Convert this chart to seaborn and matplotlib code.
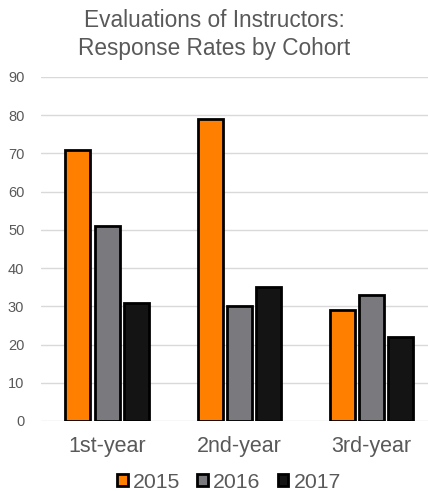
import matplotlib
matplotlib.use("Agg")
import matplotlib.pyplot as plt
import seaborn as sns
import pandas as pd

cohorts = ["1st-year", "2nd-year", "3rd-year"]
years = ["2015", "2016", "2017"]
rate_2015 = [71, 79, 29]
rate_2016 = [51, 30, 33]
rate_2017 = [31, 35, 22]
y_ticks = [0, 10, 20, 30, 40, 50, 60, 70, 80, 90]

df = pd.DataFrame({
    "cohort": cohorts * 3,
    "year": [y for y in years for _ in cohorts],
    "rate": rate_2015 + rate_2016 + rate_2017,
})

sns.set_theme(style="white")
plt.rcParams["font.family"] = ["Liberation Sans", "DejaVu Sans"]

palette = {"2015": "#FF8000", "2016": "#7A7A7E", "2017": "#141414"}
text_gray = "#595959"

fig = plt.figure(figsize=(4.28, 4.91), dpi=100)
ax = fig.add_axes([41 / 428, 70 / 491, 387 / 428, 344 / 491])

sns.barplot(data=df, x="cohort", y="rate", hue="year", order=cohorts,
            hue_order=years, palette=palette, width=0.66, gap=0.14,
            edgecolor="black", linewidth=2, saturation=1, ax=ax)

ax.set_ylim(0, 90)
ax.set_xlim(-0.5, 2.43)
ax.set_yticks(y_ticks)
ax.yaxis.grid(True, color="#D9D9D9", linewidth=1)
ax.set_axisbelow(True)
for s in ax.spines.values():
    s.set_visible(False)
ax.tick_params(axis="y", length=0, pad=12, labelsize=10.5, labelcolor=text_gray)
ax.tick_params(axis="x", length=0, pad=11, labelsize=15.5, labelcolor=text_gray)
ax.set_xlabel("")
ax.set_ylabel("")

fig.suptitle("Evaluations of Instructors:\nResponse Rates by Cohort",
             x=0.5, y=0.982, fontsize=16.3, color=text_gray, linespacing=1.3)

leg = ax.legend(loc="center", bbox_to_anchor=(188 / 387, -61 / 344),
                ncol=3, frameon=False, fontsize=15.3, handlelength=0.5,
                handleheight=0.5, handletextpad=0.25, columnspacing=0.8,
                borderaxespad=0, borderpad=0)
for t in leg.get_texts():
    t.set_color(text_gray)

fig.savefig("out.png", dpi=100)
